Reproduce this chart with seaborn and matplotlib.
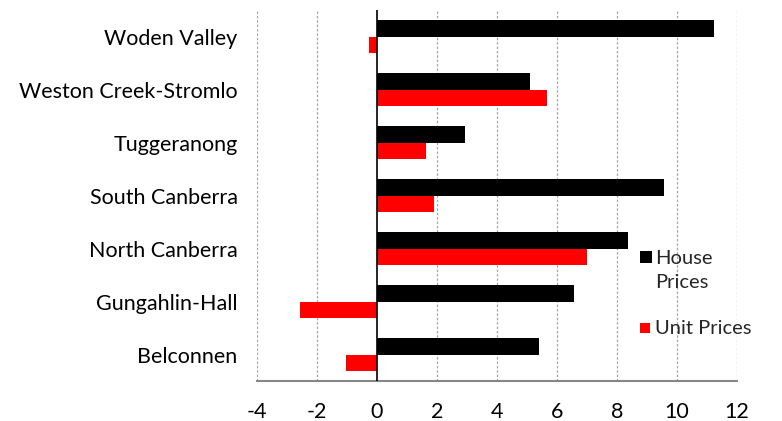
import matplotlib
matplotlib.use("Agg")
import matplotlib.pyplot as plt
import seaborn as sns
import pandas as pd
from matplotlib.patches import Rectangle

regions = ["Woden Valley", "Weston Creek-Stromlo", "Tuggeranong", "South Canberra",
           "North Canberra", "Gungahlin-Hall", "Belconnen"]
house_prices = [11.24, 5.09, 2.93, 9.57, 8.36, 6.55, 5.41]
unit_prices = [-0.28, 5.67, 1.63, 1.91, 7.01, -2.57, -1.02]
series_names = ["House Prices", "Unit Prices"]
series_colors = ["#000000", "#ff0000"]
x_ticks = [-4, -2, 0, 2, 4, 6, 8, 10, 12]

df = pd.DataFrame({
    "region": regions * 2,
    "value": house_prices + unit_prices,
    "series": [series_names[0]] * len(regions) + [series_names[1]] * len(regions),
})

sns.set_style("white")
plt.rcParams["font.family"] = ["Lato", "DejaVu Sans"]

W, H = 782, 421
fig = plt.figure(figsize=(W / 100, H / 100), dpi=100)
ax = fig.add_axes([0.3287, 0.095, 0.6138, 0.881])

sns.barplot(data=df, y="region", x="value", hue="series", order=regions,
            hue_order=series_names, palette=series_colors,
            orient="h", width=0.62, saturation=1, edgecolor="none", ax=ax,
            legend=False)

ax.set_xlim(-4, 12)
ax.set_ylim(6.5, -0.5)
ax.set_xticks(x_ticks)
ax.set_xticklabels([str(t) for t in x_ticks])
ax.set_xlabel("")
ax.set_ylabel("")

# vertical dashed gridlines
for t in x_ticks:
    if t != 0:
        ax.axvline(t, color="#a6a6a6", lw=0.9, ls=(0, (2, 1.5)), zorder=0)
ax.axvline(0, color="#000000", lw=1.2, zorder=3)

for side in ["top", "right", "left"]:
    ax.spines[side].set_visible(False)
ax.spines["bottom"].set_color("#888888")
ax.spines["bottom"].set_linewidth(1.5)

ax.tick_params(axis="x", length=0, pad=15, labelsize=15.5, colors="#000000")
ax.tick_params(axis="y", length=0, pad=14, labelsize=15.5, colors="#000000")


# legend: key squares with labels, the house label wrapping onto two lines
def fx(px):
    return px / W


def fy(py):
    return 1 - py / H


fig.patches.append(Rectangle((fx(640), fy(263)), 12 / W, 12 / H,
                             facecolor=series_colors[0], edgecolor="none",
                             transform=fig.transFigure))
fig.text(fx(655), fy(258), "House", fontsize=14.5, va="center", ha="left")
fig.text(fx(655), fy(282), "Prices", fontsize=14.5, va="center", ha="left")
fig.patches.append(Rectangle((fx(640), fy(333)), 10 / W, 10 / H,
                             facecolor=series_colors[1], edgecolor="none",
                             transform=fig.transFigure))
fig.text(fx(655), fy(328), series_names[1], fontsize=14.5, va="center", ha="left")

fig.savefig("out.png", dpi=100)
